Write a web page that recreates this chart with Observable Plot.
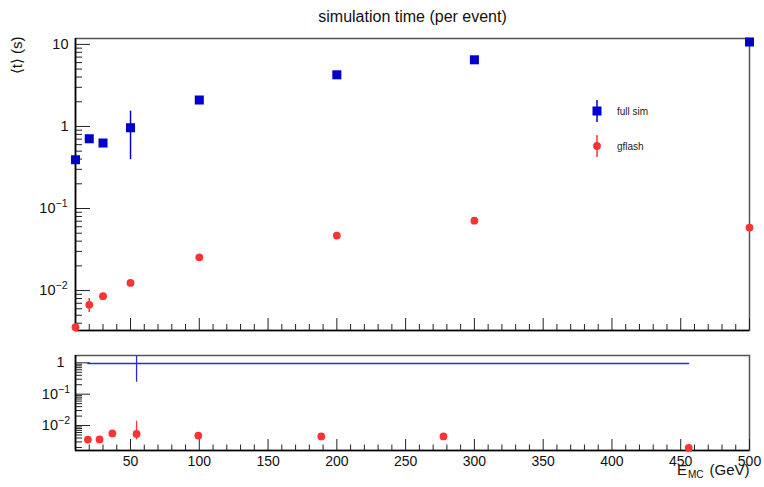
<!DOCTYPE html>
<html>
<head>
<meta charset="utf-8">
<script src="https://cdn.jsdelivr.net/npm/d3@7"></script>
<script src="https://cdn.jsdelivr.net/npm/@observablehq/plot@0.6"></script>
<style>
  html, body { margin: 0; padding: 0; background: #fff; }
  #wrap { position: relative; width: 764px; height: 487px; overflow: hidden; font-family: "Liberation Sans", Arial, Helvetica, sans-serif; }
  #wrap svg { position: absolute; left: 0; }
</style>
</head>
<body>
<div id="wrap"></div>
<script>
// ---------- data ----------
const energies   = [10, 20, 30, 50, 100, 200, 300, 500];
const fullSim    = [0.393, 0.708, 0.628, 0.964, 2.10, 4.26, 6.49, 10.7];
const fullSimErr = [0, 0, 0, 0.57, 0, 0, 0, 0];
const gflash     = [0.00357, 0.0067, 0.00853, 0.0124, 0.0254, 0.0468, 0.0711, 0.0585];
const gflashErr  = [0, 0.0013, 0, 0, 0, 0, 0, 0];

// lower (ratio-like) panel
const lowX        = [19, 27.5, 36.8, 54.4, 99.3, 188.7, 277.5, 455.8];
const lowFull     = [0.95, 0.95, 0.95, 0.95, 0.95, 0.95, 0.95, 0.95];
const lowFullLo   = [null, null, null, 0.24, null, null, null, null];
const lowFullHi   = [null, null, null, 1.66, null, null, null, null];
const lowGflash   = [0.00357, 0.0036, 0.0056, 0.0054, 0.0048, 0.0045, 0.0045, 0.00194];
const lowGflashLo = [null, null, null, 0.0035, null, null, null, null];
const lowGflashHi = [null, null, null, 0.0137, null, null, null, null];

// axes / labels
const xDomain      = [10, 500];
const xTickLabels  = [50, 100, 150, 200, 250, 300, 350, 400, 450, 500];
const topYDomain   = [0.00326, 11.8];
const topYTicks    = [0.01, 0.1, 1, 10];
const topYBase     = ["10", "10", "1", "10"];
const topYExp      = ["\u22122", "\u22121", "", ""];
const lowYDomain   = [0.0016, 1.71];
const lowYTicks    = [0.01, 0.1, 1];
const lowYBase     = ["10", "10", "1"];
const lowYExp      = ["\u22122", "\u22121", ""];
const seriesNames  = ["full sim", "gflash"];
const titleText    = "simulation time (per event)";

const BLUE = "#0000cc", RED = "#ff3333", LINEBLUE = "#2b2bdd";
const FONT = "'Liberation Sans', Arial, Helvetica, sans-serif";

// ---------- helpers ----------
function logMinors(lo, hi) {
  const out = [];
  for (let k = -4; k <= 1; k++) for (let m = 2; m <= 9; m++) {
    const v = +(m * Math.pow(10, k)).toPrecision(6);
    if (v >= lo && v <= hi) out.push(v);
  }
  return out;
}
const xMaj = d3.range(50, 501, 50);
const xMin = d3.range(20, 500, 10).filter(v => v % 50 !== 0);

const topRows = energies.map((e, i) => ({e, full: fullSim[i], fullErr: fullSimErr[i], gf: gflash[i], gfErr: gflashErr[i]}));
const lowRows = lowX.map((x, i) => ({x, full: lowFull[i], flo: lowFullLo[i], fhi: lowFullHi[i], gf: lowGflash[i], glo: lowGflashLo[i], ghi: lowGflashHi[i]}));

function yLabelMarks(ticks, base, exp, plainDx, baseDx) {
  const rows = ticks.map((v, i) => ({v, b: base[i], e: exp[i]}));
  const plain = rows.filter(r => !r.e), sup = rows.filter(r => r.e);
  return [
    Plot.text(plain, {y: "v", text: "b", frameAnchor: "left", lineAnchor: "middle", textAnchor: "end", dx: plainDx, fontSize: 14.5, fill: "#111"}),
    Plot.text(sup, {y: "v", text: "b", frameAnchor: "left", lineAnchor: "middle", textAnchor: "end", dx: baseDx, fontSize: 14.5, fill: "#111"}),
    Plot.text(sup, {y: "v", text: "e", frameAnchor: "left", lineAnchor: "middle", textAnchor: "start", dx: baseDx, dy: -5, fontSize: 10.5, fill: "#111"})
  ];
}

const W = 764, ML = 75, MR = 15;
const FW = W - ML - MR;

// ---------- top panel ----------
const topH = 340, topMT = 38, topMB = 10, topFH = topH - topMT - topMB;
const topPlot = Plot.plot({
  width: W, height: topH, marginLeft: ML, marginRight: MR, marginTop: topMT, marginBottom: topMB,
  style: {fontFamily: FONT, background: "transparent", overflow: "visible"},
  x: {domain: xDomain, axis: null},
  y: {type: "log", domain: topYDomain, axis: null},
  marks: [
    Plot.frame({stroke: "#555", strokeWidth: 1.5}),
    Plot.tickX(xMaj, {x: d => d, insetTop: topFH - 12, stroke: "#222"}),
    Plot.tickX(xMin, {x: d => d, insetTop: topFH - 6, stroke: "#222"}),
    Plot.tickY(topYTicks, {y: d => d, insetRight: FW - 15, stroke: "#222"}),
    Plot.tickY(logMinors(topYDomain[0], topYDomain[1]), {y: d => d, insetRight: FW - 7, stroke: "#222"}),
    Plot.ruleX([xDomain[0]], {stroke: "#000", strokeWidth: 1.6}),
    Plot.ruleY([topYDomain[0]], {stroke: "#000", strokeWidth: 1.6}),
    Plot.ruleX(topRows.filter(d => d.fullErr > 0), {x: "e", y1: d => d.full - d.fullErr, y2: d => d.full + d.fullErr, stroke: BLUE, strokeWidth: 1.5}),
    Plot.ruleX(topRows.filter(d => d.gfErr > 0), {x: "e", y1: d => d.gf - d.gfErr, y2: d => d.gf + d.gfErr, stroke: RED, strokeWidth: 1.5}),
    Plot.dot(topRows, {x: "e", y: "full", symbol: "square", r: 5.1, fill: BLUE, stroke: "none"}),
    Plot.dot(topRows, {x: "e", y: "gf", symbol: "circle", r: 3.9, fill: RED, stroke: "none"}),
    ...yLabelMarks(topYTicks, topYBase, topYExp, -7, -20),
    Plot.text([titleText], {frameAnchor: "top", lineAnchor: "middle", dy: -22, fontSize: 16, fill: "#111"}),
    Plot.text(["\u27E8t\u27E9 (s)"], {frameAnchor: "top-left", lineAnchor: "middle", dx: -58, dy: -2, rotate: -90, textAnchor: "end", fontSize: 15, fill: "#111"})
  ]
});
topPlot.style.top = "0px";

// ---------- bottom panel ----------
const lowH = 147, lowMT = 15, lowMB = 37, lowFH = lowH - lowMT - lowMB;
const lowPlot = Plot.plot({
  width: W, height: lowH, marginLeft: ML, marginRight: MR, marginTop: lowMT, marginBottom: lowMB,
  style: {fontFamily: FONT, background: "transparent", overflow: "visible"},
  x: {domain: xDomain, axis: null},
  y: {type: "log", domain: lowYDomain, axis: null},
  marks: [
    Plot.frame({stroke: "#555", strokeWidth: 1.5}),
    Plot.tickX(xMaj, {x: d => d, insetTop: lowFH - 11, stroke: "#222"}),
    Plot.tickX(xMin, {x: d => d, insetTop: lowFH - 5.5, stroke: "#222"}),
    Plot.tickY(lowYTicks, {y: d => d, insetRight: FW - 15, stroke: "#222"}),
    Plot.tickY(logMinors(lowYDomain[0], lowYDomain[1]), {y: d => d, insetRight: FW - 7, stroke: "#222"}),
    Plot.ruleX([xDomain[0]], {stroke: "#000", strokeWidth: 1.6}),
    Plot.ruleY([lowYDomain[0]], {stroke: "#000", strokeWidth: 1.6}),
    Plot.line(lowRows, {x: "x", y: "full", stroke: LINEBLUE, strokeWidth: 1.3}),
    Plot.ruleX(lowRows.filter(d => d.flo != null), {x: "x", y1: "flo", y2: "fhi", stroke: LINEBLUE, strokeWidth: 1.3}),
    Plot.ruleX(lowRows.filter(d => d.glo != null), {x: "x", y1: "glo", y2: "ghi", stroke: RED, strokeWidth: 1.3}),
    Plot.dot(lowRows, {x: "x", y: "gf", symbol: "circle", r: 3.9, fill: RED, stroke: "none"}),
    ...yLabelMarks(lowYTicks, lowYBase, lowYExp, -11, -17.5),
    Plot.text(xTickLabels, {x: d => d, text: d => String(d), frameAnchor: "bottom", lineAnchor: "middle", dy: 11, fontSize: 14, fill: "#111"}),
    Plot.text(["(GeV)"], {frameAnchor: "bottom-right", lineAnchor: "middle", textAnchor: "end", dx: 0, dy: 20, fontSize: 15, fill: "#111"}),
    Plot.text(["MC"], {frameAnchor: "bottom-right", lineAnchor: "middle", textAnchor: "end", dx: -46, dy: 24.5, fontSize: 10, fill: "#111"}),
    Plot.text(["E"], {frameAnchor: "bottom-right", lineAnchor: "middle", textAnchor: "end", dx: -62.5, dy: 20, fontSize: 15, fill: "#111"})
  ]
});
lowPlot.style.top = "340px";

const wrap = document.getElementById("wrap");
wrap.appendChild(topPlot);
wrap.appendChild(lowPlot);

// ---------- legend ----------
const leg = d3.select(wrap).append("svg")
  .attr("width", 120).attr("height", 70)
  .style("left", "585px").style("top", "95px")
  .style("font-family", FONT);
const legItems = [
  {name: seriesNames[0], color: BLUE, sym: "square", cy: 16},
  {name: seriesNames[1], color: RED, sym: "circle", cy: 51}
];
legItems.forEach(it => {
  const g = leg.append("g");
  g.append("line").attr("x1", 12).attr("x2", 12).attr("y1", it.cy - 11).attr("y2", it.cy + 11)
    .attr("stroke", it.color).attr("stroke-width", 1.5);
  if (it.sym === "square") {
    g.append("rect").attr("x", 12 - 4.5).attr("y", it.cy - 4.5).attr("width", 9).attr("height", 9).attr("fill", it.color);
  } else {
    g.append("circle").attr("cx", 12).attr("cy", it.cy).attr("r", 3.9).attr("fill", it.color);
  }
  g.append("text").attr("x", 32).attr("y", it.cy).attr("dy", "0.35em")
    .attr("font-size", 10).attr("fill", "#222").text(it.name);
});
</script>
</body>
</html>
